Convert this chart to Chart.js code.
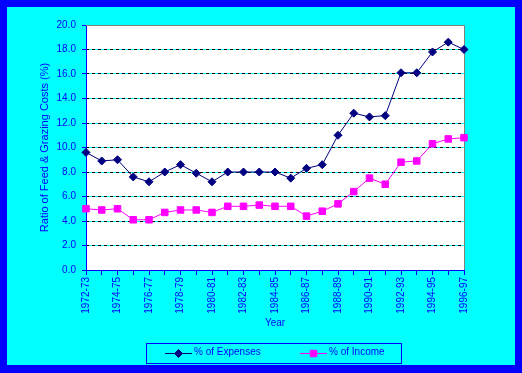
<!DOCTYPE html>
<html>
<head>
<meta charset="utf-8">
<script src="https://cdn.jsdelivr.net/npm/chart.js@4/dist/chart.umd.min.js"></script>
<style>
  html, body { margin:0; padding:0; background:#0000ff; }
  #frame { position:absolute; left:7px; top:7px; width:508px; height:358px; background:#00ffff; }
</style>
</head>
<body>
<div id="frame"><canvas id="chart" width="508" height="358"></canvas></div>
<script>
// ========== DATA ==========
const YEARS = ['1972-73','1973-74','1974-75','1975-76','1976-77','1977-78','1978-79','1979-80',
               '1980-81','1981-82','1982-83','1983-84','1984-85','1985-86','1986-87','1987-88',
               '1988-89','1989-90','1990-91','1991-92','1992-93','1993-94','1994-95','1995-96','1996-97'];
const EXPENSES = [9.6, 8.9, 9.0, 7.6, 7.2, 8.0, 8.6, 7.9, 7.2, 8.0, 8.0, 8.0, 8.0, 7.5, 8.3, 8.6,
                  11.0, 12.8, 12.5, 12.6, 16.1, 16.1, 17.8, 18.6, 18.0];
const INCOME   = [5.0, 4.9, 5.0, 4.1, 4.1, 4.7, 4.9, 4.9, 4.7, 5.2, 5.2, 5.3, 5.2, 5.2, 4.4, 4.8,
                  5.4, 6.4, 7.5, 7.0, 8.8, 8.9, 10.3, 10.7, 10.8];
const Y_TITLE = 'Ratio of Feed & Grazing Costs (%)';
const X_TITLE = 'Year';

// ========== STYLE ==========
const BLUE = '#0000ff', NAVY = '#000080', MAGENTA = '#ff00ff', GRAY = '#808080';
Chart.defaults.font.family = 'Arial, "Liberation Sans", sans-serif';
Chart.defaults.font.size = 10;
Chart.defaults.color = BLUE;

// white plot area + gray top/right edge
const plotFrame = {
  id:'plotFrame',
  beforeDraw(chart){
    const {ctx, chartArea:a} = chart;
    ctx.save();
    ctx.fillStyle = '#ffffff';
    ctx.fillRect(a.left, a.top, a.right - a.left, a.bottom - a.top);
    ctx.restore();
  },
  beforeDatasetsDraw(chart){
    const {ctx, chartArea:a} = chart;
    ctx.save();
    ctx.strokeStyle = GRAY; ctx.lineWidth = 1;
    ctx.beginPath();
    ctx.moveTo(a.left, a.top + 0.5); ctx.lineTo(a.right + 0.5, a.top + 0.5);
    ctx.lineTo(a.right + 0.5, a.bottom);
    ctx.stroke();
    ctx.restore();
  }
};

// boxed legend under the axis, line + marker per series
const LEGEND_X = [158, 293];
const boxLegend = {
  id:'boxLegend',
  afterDraw(chart){
    const ctx = chart.ctx;
    ctx.save();
    ctx.strokeStyle = BLUE; ctx.lineWidth = 1;
    ctx.strokeRect(139.5, 336.5, 255, 20);
    chart.data.datasets.forEach((ds, i) => {
      const x = LEGEND_X[i], y = 346.5;
      ctx.strokeStyle = ds.borderColor; ctx.fillStyle = ds.backgroundColor;
      ctx.lineWidth = 1;
      ctx.beginPath(); ctx.moveTo(x, y); ctx.lineTo(x + 27, y); ctx.stroke();
      Chart.helpers.drawPoint(ctx, {pointStyle: ds.pointStyle, radius: ds.pointRadius, borderWidth: 1}, x + 13.5, y);
      ctx.fillStyle = BLUE;
      ctx.font = '10px Arial, "Liberation Sans", sans-serif';
      ctx.textBaseline = 'middle'; ctx.textAlign = 'left';
      ctx.fillText(ds.label, x + 29, y - 1);
    });
    ctx.restore();
  }
};

new Chart(document.getElementById('chart'), {
  type: 'line',
  data: {
    labels: YEARS,
    datasets: [
      { label:'% of Expenses', data: EXPENSES, borderColor: NAVY, backgroundColor: NAVY,
        borderWidth: 1, pointStyle: 'rectRot', pointRadius: 4, pointBorderWidth: 1, tension: 0, clip: false },
      { label:'% of Income', data: INCOME, borderColor: MAGENTA, backgroundColor: MAGENTA,
        borderWidth: 1, pointStyle: 'rect', pointRadius: 4.6, pointBorderWidth: 1, tension: 0, clip: false }
    ]
  },
  options: {
    responsive: false,
    animation: false,
    layout: { padding: { left: 31, right: 51, top: 18, bottom: 36 } },
    plugins: { legend: { display: false }, tooltip: { enabled: false } },
    scales: {
      x: {
        offset: false,
        afterFit: s => { s.height = 59; },
        border: { color: BLUE, width: 1 },
        grid: { drawOnChartArea: false, tickColor: BLUE, tickLength: 5 },
        ticks: { autoSkip: false, minRotation: 90, maxRotation: 90, padding: 2,
                 callback: (v, i) => i % 2 === 0 ? YEARS[i] : '' },
        title: { display: true, text: X_TITLE, padding: 0 }
      },
      y: {
        min: 0, max: 20,
        afterFit: s => { s.width = 48; },
        border: { color: BLUE, width: 1 },
        grid: { color: c => (c.tick && c.tick.value > 0 && c.tick.value < 20) ? '#00ffff' : 'rgba(0,0,0,0)',
                tickColor: BLUE, tickLength: 4 },
        ticks: { stepSize: 2, padding: 6, callback: v => v.toFixed(1) },
        title: { display: true, text: Y_TITLE, padding: 0, font: { size: 11 } }
      },
      yDash: {
        position: 'right', min: 0, max: 20,
        afterFit: s => { s.width = 0; },
        border: { display: false, dash: [3, 3] },
        grid: { color: c => (c.tick && c.tick.value > 0 && c.tick.value < 20) ? '#000000' : 'rgba(0,0,0,0)',
                drawTicks: false },
        ticks: { display: false, stepSize: 2 }
      }
    }
  },
  plugins: [plotFrame, boxLegend]
});
</script>
</body>
</html>
